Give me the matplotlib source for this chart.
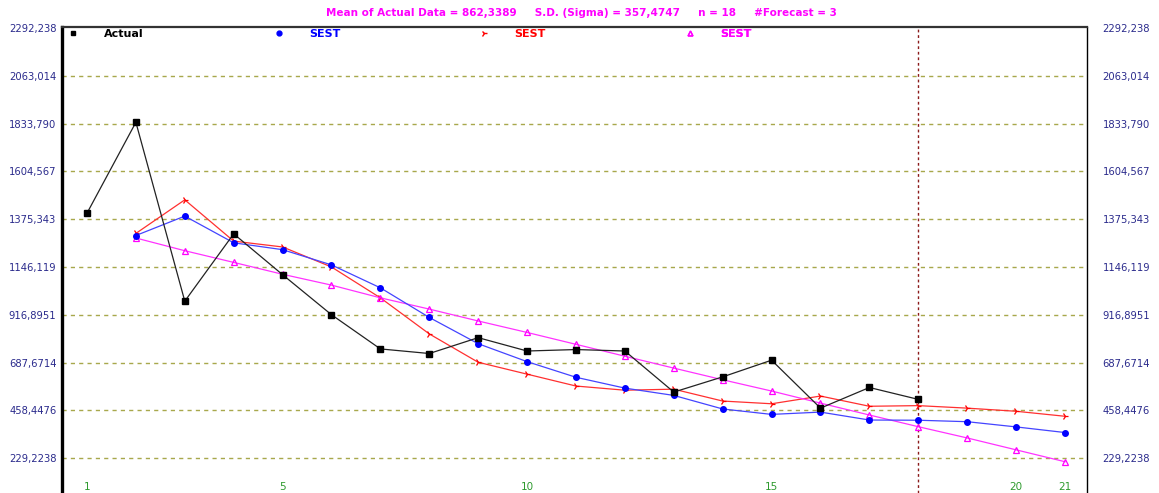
import matplotlib
matplotlib.use("Agg")
import matplotlib.pyplot as plt
import matplotlib.transforms as mtransforms
from matplotlib.lines import Line2D

# ---- data ----
actual_x = list(range(1, 19))
actual_y = [1404, 1840, 982, 1305, 1109, 917, 753, 731, 807, 743, 750, 743,
            546, 619, 699, 469, 568, 511]

fc_x = list(range(2, 22))
sest_blue = [1297, 1390, 1262, 1229, 1156, 1046, 904, 778, 692, 617, 565,
             530, 465, 439, 450, 412, 411, 404, 379, 352]
sest_red = [1307, 1468, 1270, 1242, 1146, 998, 825, 689, 632, 575, 555,
            560, 503, 490, 527, 478, 481, 469, 454, 430]
sest_mag = [1285, 1224, 1168, 1111, 1059, 998, 944, 887, 832, 775, 718,
            661, 605, 551, 493, 436, 380, 326, 269, 212]

y_ticks = [229.2238, 458.4476, 687.6714, 916.8951, 1146.119, 1375.343,
           1604.567, 1833.790, 2063.014, 2292.238]
y_ticklabels = ["229,2238", "458,4476", "687,6714", "916,8951", "1146,119",
                "1375,343", "1604,567", "1833,790", "2063,014", "2292,238"]
x_ticks = [1, 5, 10, 15, 20, 21]
x_ticklabels = ["1", "5", "10", "15", "20", "21"]
n_actual = 18

title = ("Mean of Actual Data = 862,3389     S.D. (Sigma) = 357,4747     "
         "n = 18     #Forecast = 3")
series_labels = ["Actual", "SEST", "SEST", "SEST"]

# ---- figure ----
W, H = 1159, 493
fig = plt.figure(figsize=(W / 100, H / 100), dpi=100)
ax = fig.add_axes([62 / W, 0, (1087 - 62) / W, (493 - 27) / H])

ax.set_xlim(0.489, 21.45)
ax.set_ylim(62, 2297)

# grid
for v in y_ticks[:-1]:
    ax.axhline(v, color="#a8a84c", lw=1.0, ls=(0, (3, 3)), zorder=1)
ax.axvline(n_actual, color="#8b1a1a", lw=1.0, ls=(0, (2, 2)), zorder=1)

# series
ax.plot(fc_x, sest_red, color="#ff3030", lw=0.9, marker="4", ms=5,
        mew=0.9, mec="#ff0000", zorder=3)
ax.plot(fc_x, sest_mag, color="#ff33ff", lw=0.9, marker="^", ms=4,
        mfc="none", mec="#ff00ff", mew=0.9, zorder=3)
ax.plot(fc_x, sest_blue, color="#4444ff", lw=0.9, marker="o", ms=4,
        mfc="#0000ff", mec="#0000ff", zorder=4)
ax.plot(actual_x, actual_y, color="#222222", lw=0.9, marker="s", ms=4.5,
        mfc="black", mec="black", zorder=5)

# spines
ax.spines["bottom"].set_visible(False)
ax.spines["left"].set_linewidth(2.4)
ax.spines["left"].set_color("black")
ax.spines["top"].set_linewidth(1.6)
ax.spines["top"].set_color("#333333")
ax.spines["right"].set_linewidth(1.0)
ax.spines["right"].set_color("black")

# y ticks on both sides
ax.set_yticks(y_ticks)
ax.set_yticklabels(y_ticklabels)
ax.tick_params(axis="y", which="both", length=0, labelsize=7.2,
               labelcolor="#2b2b8c", left=True, right=True,
               labelleft=True, labelright=True, pad=4)
offset = mtransforms.ScaledTranslation(10 / 100, 0, fig.dpi_scale_trans)
for t in ax.yaxis.get_major_ticks():
    t.label2.set_transform(t.label2.get_transform() + offset)

# x tick labels drawn inside the plot at its bottom
ax.set_xticks(x_ticks)
ax.set_xticklabels(x_ticklabels)
ax.tick_params(axis="x", length=0, labelsize=7.5, labelcolor="#2e9a2e",
               pad=-8)

# title
fig.text(581 / W, 1 - 13 / H, title, color="#ff00ff", fontsize=7.5,
         fontweight="bold", ha="center", va="center")

# legend entries (four single-entry legends along the top)
handles = [
    Line2D([], [], ls="none", marker="s", ms=3, mfc="black", mec="black"),
    Line2D([], [], ls="none", marker="o", ms=3.5, mfc="#0000ff", mec="#0000ff"),
    Line2D([], [], ls="none", marker="4", ms=4.5, mec="#ff0000"),
    Line2D([], [], ls="none", marker="^", ms=3.5, mfc="none", mec="#ff00ff"),
]
colors = ["black", "#0000ff", "#ff0000", "#ff00ff"]
xpos = [73, 279, 484, 690]
for h, lab, c, xp in zip(handles, series_labels, colors, xpos):
    leg = ax.legend([h], [lab], loc="center left",
                    bbox_to_anchor=((xp - 62 - 6) / (1087 - 62), 1 - 7 / 466),
                    frameon=False, handlelength=1.0, handletextpad=2.3,
                    borderpad=0, borderaxespad=0,
                    prop={"size": 8, "weight": "bold"})
    for t in leg.get_texts():
        t.set_color(c)
    ax.add_artist(leg)

fig.savefig("out.png", dpi=100)
